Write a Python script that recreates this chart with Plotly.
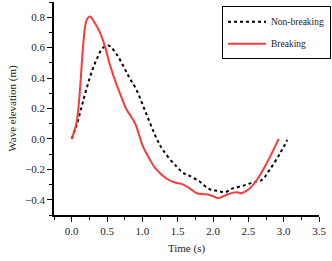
import plotly.graph_objects as go

# Non-breaking (black dotted)
t_nb = [0, 0.07, 0.16, 0.255, 0.35, 0.44, 0.52, 0.63, 0.775, 0.82, 0.92, 1.06, 1.20, 1.29,
        1.48, 1.60, 1.67, 1.81, 1.95, 2.07, 2.17, 2.28, 2.43, 2.57, 2.69, 2.80, 2.95, 3.05]
v_nb = [0, 0.09, 0.245, 0.40, 0.52, 0.597, 0.614, 0.56, 0.44, 0.40, 0.32, 0.16, 0.005, -0.072,
        -0.18, -0.23, -0.243, -0.28, -0.33, -0.342, -0.35, -0.325, -0.307, -0.285, -0.27,
        -0.204, -0.094, -0.007]

# Breaking (red solid)
t_b = [0, 0.07, 0.12, 0.14, 0.165, 0.19, 0.22, 0.26, 0.33, 0.40, 0.47, 0.54, 0.61, 0.70,
       0.775, 0.83, 0.90, 1.01, 1.10, 1.18, 1.34, 1.45, 1.58, 1.70, 1.77, 1.87, 1.95,
       2.02, 2.07, 2.13, 2.19, 2.28, 2.34, 2.40, 2.46, 2.52, 2.62, 2.76, 2.93]
v_b = [0, 0.11, 0.34, 0.475, 0.63, 0.74, 0.79, 0.805, 0.76, 0.70, 0.61, 0.49, 0.39, 0.28,
       0.195, 0.155, 0.10, -0.05, -0.13, -0.19, -0.26, -0.285, -0.30, -0.335, -0.357,
       -0.363, -0.368, -0.38, -0.39, -0.38, -0.368, -0.353, -0.35, -0.357, -0.345, -0.325,
       -0.27, -0.16, 0.0]

FONT = "Liberation Serif"

fig = go.Figure()
fig.add_trace(go.Scatter(x=t_nb, y=v_nb, mode="lines", name="Non-breaking",
                         legendgroup="a",
                         line=dict(color="black", width=2, dash="dot", shape="spline")))
fig.add_trace(go.Scatter(x=t_b, y=v_b, mode="lines", name="Breaking",
                         legendgroup="b",
                         line=dict(color="#f53c3c", width=2, shape="spline")))

axis_common = dict(showline=True, linecolor="black", linewidth=1.5, ticks="outside",
                   ticklen=5, tickwidth=1.2, tickcolor="black", showgrid=False,
                   zeroline=False, tickfont=dict(family=FONT, size=11, color="#222"),
                   mirror=False, automargin=False)

fig.update_xaxes(range=[-0.25, 3.5], dtick=0.5, tick0=0, tickformat=".1f",
                 domain=[0, 265 / 278],
                 minor=dict(dtick=0.25, tick0=0, ticklen=3, ticks="outside", tickcolor="black"),
                 title=dict(text="Time (s)", font=dict(family=FONT, size=11, color="#222"), standoff=8),
                 **axis_common)
fig.update_yaxes(range=[-0.5, 0.9], dtick=0.2, tick0=0, tickformat=".1f",
                 minor=dict(dtick=0.1, tick0=0, ticklen=3, ticks="outside", tickcolor="black"),
                 title=dict(text="Wave elevation (m)", font=dict(family=FONT, size=11, color="#222"), standoff=6),
                 **axis_common)

fig.update_layout(
    width=332, height=261,
    margin=dict(l=54, r=0, t=2, b=46),
    plot_bgcolor="white", paper_bgcolor="white",
    legend=dict(x=(222 - 54) / 278, y=0.98, xanchor="left", yanchor="top",
                bordercolor="black", borderwidth=1, bgcolor="white",
                font=dict(family=FONT, size=9.5, color="#222"),
                itemwidth=38, tracegroupgap=3),
)

fig.write_html("out.html", config={"displayModeBar": False},
               post_script="document.body.style.margin='0';")
